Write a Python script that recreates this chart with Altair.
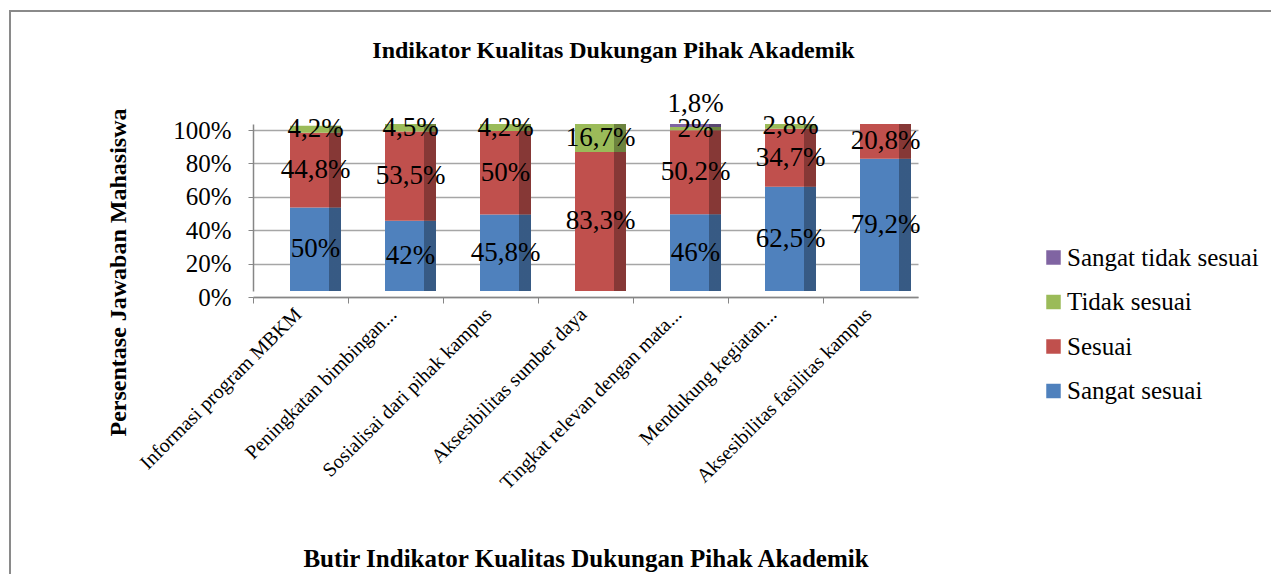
import altair as alt
import pandas as pd

categories = [
    "Informasi program MBKM",
    "Peningkatan bimbingan...",
    "Sosialisai dari pihak kampus",
    "Aksesibilitas sumber daya",
    "Tingkat relevan dengan mata...",
    "Mendukung kegiatan...",
    "Aksesibilitas fasilitas kampus",
]
sangat_sesuai = [50, 42, 45.8, 0, 46, 62.5, 79.2]
sesuai = [44.8, 53.5, 50, 83.3, 50.2, 34.7, 20.8]
tidak_sesuai = [4.2, 4.5, 4.2, 16.7, 2, 2.8, 0]
sangat_tidak_sesuai = [0, 0, 0, 0, 1.8, 0, 0]
y_ticks = [0, 20, 40, 60, 80, 100]

series_names = ["Sangat sesuai", "Sesuai", "Tidak sesuai", "Sangat tidak sesuai"]
series_values = [sangat_sesuai, sesuai, tidak_sesuai, sangat_tidak_sesuai]
series_colors = ["#4F81BD", "#C0504D", "#9BBB59", "#8064A2"]

rows = []
for order, (name, vals) in enumerate(zip(series_names, series_values)):
    for cat, v in zip(categories, vals):
        rows.append({"cat": cat, "series": name, "value": v, "order": order})
df = pd.DataFrame(rows)

FONT = "Liberation Serif"
legend_order = list(reversed(series_names))
legend_colors = list(reversed(series_colors))
BAR_SHIFT = 62.5  # offset from band start to bar centre (3D perspective look)

x_axis = alt.Axis(title="Butir Indikator Kualitas Dukungan Pihak Akademik",
                  labelAngle=-45, labelAlign="right", labelBaseline="middle",
                  labelFont=FONT, labelFontSize=20, labelColor="black",
                  labelLimit=400, labelPadding=8, tickOffset=-47.5, labelOffset=45,
                  tickSize=6, offset=6,
                  tickColor="#868686", domainColor="#868686", domainWidth=1.5,
                  titleFont=FONT, titleFontSize=25, titleFontWeight="bold",
                  titleColor="black", titleY=261, titleBaseline="middle")
x_scale = alt.Scale(paddingInner=0, paddingOuter=0)

y_axis = alt.Axis(title="Persentase Jawaban Mahasiswa", values=y_ticks,
                  labelExpr="datum.value + '%'", labelFont=FONT, labelFontSize=25,
                  labelColor="black", labelPadding=17, tickSize=5, tickOffset=6,
                  labelOverlap=False,
                  tickColor="#868686", domainColor="#868686", domainWidth=1.5,
                  gridColor="#A6A6A6", gridWidth=1.3,
                  titleFont=FONT, titleFontSize=24, titleFontWeight="bold",
                  titleColor="black", titleAngle=270, titleX=-135, titleY=148,
                  titleAlign="center", titleBaseline="middle")
y_scale = alt.Scale(domain=[0, 100])


def xe():
    return alt.X("cat:N", sort=categories, scale=x_scale, axis=x_axis)


def ye(field):
    return alt.Y(field, scale=y_scale, axis=y_axis)


base = alt.Chart(df).transform_stack(
    stack="value", groupby=["cat"], as_=["v0", "v1"],
    sort=[alt.SortField("order", order="ascending")]
).transform_calculate(mid="(datum.v0 + datum.v1) / 2")

bars = base.mark_bar(size=51).encode(
    x=xe(),
    y=ye("v0:Q"),
    y2="v1:Q",
    xOffset=alt.value(BAR_SHIFT),
    color=alt.Color("series:N", scale=alt.Scale(domain=legend_order, range=legend_colors),
                    legend=alt.Legend(title=None, orient="none", legendX=788, legendY=121,
                                      symbolType="square", symbolSize=210, symbolStrokeWidth=0,
                                      labelFont=FONT, labelFontSize=25, labelColor="black",
                                      labelLimit=400, rowPadding=18.5, labelOffset=1)),
)

shade = alt.Chart(df).mark_bar(
    size=51,
    fill={"gradient": "linear", "x1": 0, "y1": 0, "x2": 1, "y2": 0,
          "stops": [{"offset": 0, "color": "rgba(0,0,0,0)"},
                    {"offset": 0.765, "color": "rgba(0,0,0,0)"},
                    {"offset": 0.765, "color": "rgba(0,0,0,0.3)"},
                    {"offset": 1, "color": "rgba(0,0,0,0.3)"}]},
).encode(
    x=xe(),
    y=ye("sum(value):Q"),
    xOffset=alt.value(BAR_SHIFT),
)

label_expr = "replace(format(datum.value, '.1~f'), '.', ',') + '%'"

texts = base.transform_filter("datum.value > 0 && datum.series != 'Sangat tidak sesuai'").transform_calculate(
    lbl=label_expr
).mark_text(font=FONT, fontSize=27, color="black", baseline="middle").encode(
    x=xe(),
    y=ye("mid:Q"),
    text="lbl:N",
    xOffset=alt.value(BAR_SHIFT),
)

texts_top = base.transform_filter("datum.value > 0 && datum.series == 'Sangat tidak sesuai'").transform_calculate(
    lbl=label_expr
).mark_text(font=FONT, fontSize=27, color="black", baseline="middle", dy=-22).encode(
    x=xe(),
    y=ye("mid:Q"),
    text="lbl:N",
    xOffset=alt.value(BAR_SHIFT),
)

frame_df = pd.DataFrame({"a": [0]})
frame_top = alt.Chart(frame_df).mark_rule(color="#8A8A8A", strokeWidth=2).encode(
    x=alt.value(-244), x2=alt.value(1030), y=alt.value(-113))
frame_left = alt.Chart(frame_df).mark_rule(color="#8A8A8A", strokeWidth=2).encode(
    x=alt.value(-243), y=alt.value(-114), y2=alt.value(452))

chart = alt.layer(bars, shade, texts, texts_top, frame_top, frame_left).properties(
    width=665, height=167,
    autosize=alt.AutoSizeParams(type="none"),
    padding={"left": 245, "top": 116, "right": 353, "bottom": 283},
    title=alt.TitleParams("Indikator Kualitas Dukungan Pihak Akademik", font=FONT,
                          fontSize=24, fontWeight="bold", color="black",
                          anchor="middle", dx=28, offset=-54),
).configure_view(stroke=None)

chart.save("out.html", embed_options={"renderer": "svg", "actions": False})
